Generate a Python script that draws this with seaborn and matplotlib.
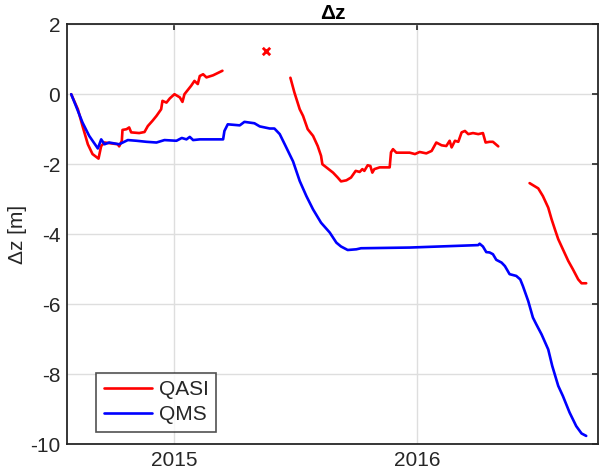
import numpy as np
import pandas as pd
import seaborn as sns
import matplotlib.pyplot as plt
import matplotlib.dates as mdates

# days since 2015-01-01 and elevation change (m)
qms_day = [-154, -147, -137, -127, -114, -109, -104, -97, -82, -69, -56, -41, -26, -14,
           4, 12, 19, 24, 29, 39, 54, 74, 76, 81, 99, 106, 121, 129, 144, 151, 159, 167,
           179, 189, 199, 209, 221, 234, 244, 251, 261, 274, 281, 354, 457, 459, 464,
           469, 474, 479, 484, 492, 497, 504, 514, 520, 524, 532, 539, 544, 552, 562,
           568, 577, 584, 594, 604, 612, 619]
qms_dz = [0.0, -0.33, -0.81, -1.19, -1.55, -1.29, -1.43, -1.38, -1.43, -1.31, -1.33, -1.36,
          -1.38, -1.31, -1.33, -1.25, -1.29, -1.22, -1.31, -1.29, -1.29, -1.29, -1.05, -0.86,
          -0.89, -0.79, -0.83, -0.92, -0.98, -0.98, -1.14, -1.45, -1.92, -2.48, -2.91, -3.29,
          -3.67, -3.95, -4.24, -4.35, -4.45, -4.43, -4.40, -4.38, -4.31, -4.27, -4.35, -4.51,
          -4.52, -4.57, -4.73, -4.81, -4.91, -5.14, -5.19, -5.29, -5.48, -5.91, -6.38, -6.57,
          -6.86, -7.29, -7.76, -8.33, -8.62, -9.09, -9.48, -9.69, -9.76]

qasi_day_1 = [-154, -144, -137, -129, -122, -113, -109, -104, -84, -82, -78, -77, -71, -67,
              -64, -52, -44, -39, -32, -26, -19, -17, -11, -6, 1, 9, 13, 16, 26, 31, 36,
              39, 44, 49, 59, 73]
qasi_dz_1 = [0.0, -0.43, -0.91, -1.43, -1.71, -1.84, -1.48, -1.38, -1.43, -1.49, -1.33,
             -1.02, -1.0, -0.95, -1.09, -1.11, -1.08, -0.91, -0.76, -0.62, -0.43, -0.19,
             -0.24, -0.12, 0.0, -0.09, -0.22, 0.0, 0.24, 0.38, 0.29, 0.52, 0.57, 0.48,
             0.54, 0.67]
qasi_day_2 = [175, 181, 189, 194, 201, 209, 216, 221, 223, 231, 239, 246, 251, 259, 266,
              273, 279, 283, 286, 291, 295, 298, 301, 309, 324, 326, 329, 334, 342, 354,
              362, 369, 379, 387, 394, 402, 409, 414, 417, 422, 427, 432, 437, 442, 449,
              457, 464, 468, 474, 479, 487]
qasi_dz_2 = [0.47, 0.05, -0.43, -0.62, -1.0, -1.19, -1.48, -1.76, -2.0, -2.12, -2.24,
             -2.38, -2.49, -2.46, -2.38, -2.19, -2.22, -2.14, -2.19, -2.03, -2.05, -2.24,
             -2.14, -2.09, -2.09, -1.66, -1.57, -1.67, -1.67, -1.67, -1.71, -1.65, -1.69,
             -1.62, -1.38, -1.46, -1.48, -1.33, -1.52, -1.33, -1.36, -1.09, -1.05, -1.14,
             -1.11, -1.14, -1.11, -1.38, -1.36, -1.36, -1.49]
qasi_day_3 = [534, 547, 554, 562, 567, 572, 577, 584, 592, 599, 607, 612, 619]
qasi_dz_3 = [-2.54, -2.69, -2.91, -3.24, -3.57, -3.86, -4.14, -4.43, -4.76, -5.0, -5.29,
             -5.40, -5.40]

outlier_day = [139]
outlier_dz = [1.22]

epoch = pd.Timestamp('2015-01-01')


def to_date(days):
    return epoch + pd.to_timedelta(days, unit='D')


frames = []
for seg, (d, z) in enumerate([(qasi_day_1, qasi_dz_1), (qasi_day_2, qasi_dz_2),
                              (qasi_day_3, qasi_dz_3)]):
    frames.append(pd.DataFrame({'date': to_date(d), 'dz': z, 'series': 'QASI', 'seg': seg}))
frames.append(pd.DataFrame({'date': to_date(qms_day), 'dz': qms_dz, 'series': 'QMS', 'seg': 10}))
df = pd.concat(frames, ignore_index=True)

sns.set_style('white')
plt.rcParams['font.family'] = ['Liberation Sans', 'DejaVu Sans']
plt.rcParams['axes.unicode_minus'] = False

fs = 15
fig = plt.figure(figsize=(6, 4.75), dpi=100)
ax = fig.add_axes([0.112, 0.0646, 0.885, 0.8845])

sns.lineplot(data=df, x='date', y='dz', hue='series', units='seg', estimator=None,
             palette={'QASI': '#ff0000', 'QMS': '#0000ff'}, linewidth=1.9, ax=ax)
sns.scatterplot(x=to_date(outlier_day), y=outlier_dz, marker='x', color='#ff0000',
                s=28, linewidth=2, legend=False, ax=ax, zorder=3)

ax.set_xlim(pd.Timestamp('2014-07-25'), pd.Timestamp('2016-09-29'))
ax.set_ylim(-10, 2)
ax.set_yticks(np.arange(-10, 3, 2))
ax.xaxis.set_major_locator(mdates.YearLocator())
ax.xaxis.set_major_formatter(mdates.DateFormatter('%Y'))

ax.grid(True, color='#dedede', linewidth=1.0)
ax.tick_params(direction='in', length=4, width=1.2, top=True, right=True,
               labelsize=fs, colors='#262626', pad=5)
for s in ax.spines.values():
    s.set_color('#262626')
    s.set_linewidth(1.3)

ax.set_xlabel('')
ax.set_ylabel('Δz [m]', fontsize=fs, color='#262626', labelpad=2)
ax.set_title('Δz', fontsize=fs, fontweight='bold', color='black', pad=4)

leg = ax.legend(loc='lower left', bbox_to_anchor=(0.055, 0.03), fontsize=fs,
                frameon=True, fancybox=False, edgecolor='#262626', handlelength=2.3,
                borderpad=0.35, labelspacing=0.3, handletextpad=0.35, borderaxespad=0)
leg.get_frame().set_linewidth(1.2)

fig.savefig('out.png', dpi=100)
